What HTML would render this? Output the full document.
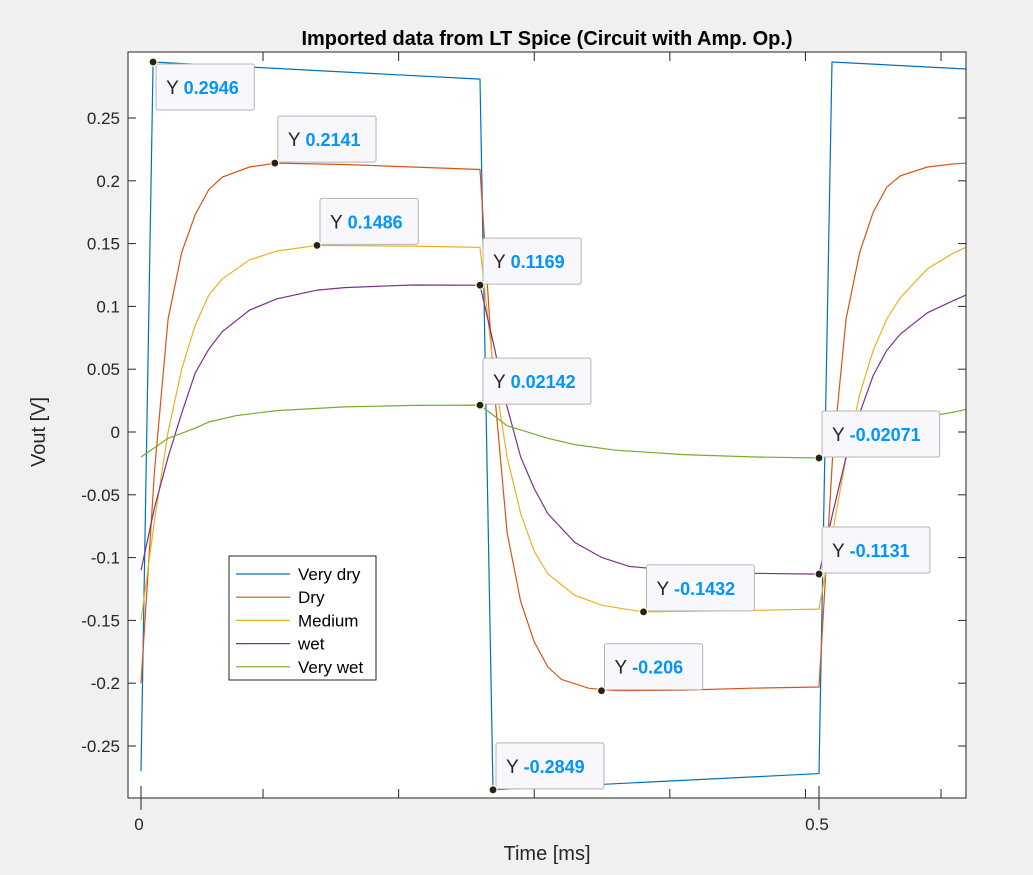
<!DOCTYPE html>
<html><head><meta charset="utf-8"><style>
body{margin:0;background:#f0f0f0;}
svg{display:block;font-family:"Liberation Sans",sans-serif;}
</style></head><body>
<svg id="chart" width="1033" height="875">
<rect x="0" y="0" width="1033" height="875" fill="#f0f0f0"/>
<rect x="128" y="52" width="838" height="746" fill="#fff" stroke="none"/>
<g id="grid"></g>
<g id="series"></g>
<rect x="128" y="52" width="838" height="746" fill="none" stroke="#262626" stroke-width="1"/>
<g id="tips"></g>
<text x="547" y="45" text-anchor="middle" font-size="20" font-weight="bold" fill="#000">Imported data from LT Spice (Circuit with Amp. Op.)</text>
<text x="547" y="860" text-anchor="middle" font-size="20" fill="#262626">Time [ms]</text>
<text transform="translate(45,432) rotate(-90)" text-anchor="middle" font-size="20" fill="#262626">Vout [V]</text>
<g id="legend"></g>
</svg>
<script>
const yTicks=[0.25,0.2,0.15,0.1,0.05,0,-0.05,-0.1,-0.15,-0.2,-0.25];
const yTickLabels=["0.25","0.2","0.15","0.1","0.05","0","-0.05","-0.1","-0.15","-0.2","-0.25"];
const xTicks=[0,0.5];
const xTickLabels=["0","0.5"];
const xMinorTicks=[0.09,0.19,0.29,0.39,0.49,0.59];
const seriesNames=["Very dry","Dry","Medium","wet","Very wet"];
const seriesColors=["#0072bd","#d95319","#edb120","#7e2f8e","#77ac30"];
const veryDryT=[0,0.0089,0.25,0.2596,0.5,0.5096,0.6084];
const veryDryV=[-0.27,0.2946,0.281,-0.2849,-0.272,0.2946,0.289];
const dryT=[0,0.01,0.02,0.03,0.04,0.05,0.06,0.08,0.1,0.15,0.2,0.25,0.26,0.27,0.28,0.29,0.3,0.31,0.33,0.35,0.4,0.45,0.5,0.51,0.52,0.53,0.54,0.55,0.56,0.58,0.6,0.6084];
const dryV=[-0.2,-0.03,0.09,0.143,0.173,0.193,0.203,0.211,0.2141,0.213,0.211,0.209,0.04,-0.08,-0.135,-0.167,-0.187,-0.197,-0.204,-0.206,-0.2055,-0.204,-0.203,-0.02,0.09,0.143,0.175,0.195,0.204,0.211,0.2135,0.214];
const medT=[0,0.01,0.02,0.03,0.04,0.05,0.06,0.08,0.1,0.13,0.2,0.25,0.26,0.27,0.28,0.29,0.3,0.32,0.34,0.37,0.45,0.5,0.51,0.52,0.53,0.54,0.55,0.56,0.58,0.6,0.6084];
const medV=[-0.15,-0.07,0.0,0.05,0.085,0.109,0.122,0.137,0.144,0.1486,0.148,0.147,0.05,-0.02,-0.065,-0.095,-0.113,-0.13,-0.138,-0.1432,-0.142,-0.141,-0.08,-0.02,0.03,0.065,0.09,0.107,0.13,0.143,0.147];
const wetT=[0,0.01,0.02,0.03,0.04,0.05,0.06,0.08,0.1,0.13,0.15,0.2,0.25,0.26,0.27,0.28,0.29,0.3,0.32,0.34,0.36,0.4,0.45,0.5,0.51,0.52,0.53,0.54,0.55,0.56,0.58,0.6,0.6084];
const wetV=[-0.11,-0.06,-0.02,0.015,0.047,0.066,0.08,0.097,0.106,0.113,0.115,0.117,0.1169,0.07,0.02,-0.02,-0.045,-0.065,-0.088,-0.1,-0.107,-0.111,-0.1125,-0.1131,-0.065,-0.02,0.015,0.045,0.065,0.078,0.095,0.105,0.109];
const vwetT=[0,0.02,0.04,0.05,0.07,0.1,0.15,0.2,0.25,0.27,0.3,0.32,0.35,0.4,0.45,0.5,0.52,0.54,0.56,0.58,0.6,0.6084];
const vwetV=[-0.02,-0.005,0.003,0.008,0.013,0.017,0.02,0.0212,0.02142,0.005,-0.005,-0.01,-0.0145,-0.018,-0.0198,-0.02071,-0.008,0.001,0.007,0.012,0.016,0.018];
const tipT=[0.0089,0.0987,0.1298,0.25,0.25,0.5,0.5,0.3706,0.3396,0.2596];
const tipV=[0.2946,0.2141,0.1486,0.1169,0.02142,-0.02071,-0.1131,-0.1432,-0.206,-0.2849];
const tipLabels=["0.2946","0.2141","0.1486","0.1169","0.02142","-0.02071","-0.1131","-0.1432","-0.206","-0.2849"];
const tipBelow=[true,false,false,false,false,false,false,false,false,false];

const NS="http://www.w3.org/2000/svg";
const X=t=>141+t*1356;
const Y=v=>432-v*1256;
function mk(tag,attrs,parent){const e=document.createElementNS(NS,tag);for(const k in attrs)e.setAttribute(k,attrs[k]);parent.appendChild(e);return e;}
const grid=document.getElementById('grid');
yTicks.forEach((v,i)=>{
  const l=mk('line',{x1:128,x2:136,y1:Y(v),y2:Y(v),stroke:'#262626'},grid);
  
  
  const r=mk('line',{x1:958,x2:966,y1:Y(v),y2:Y(v),stroke:'#262626'},grid);
  
  
  const t=mk('text',{x:120,y:Y(v)+6,'text-anchor':'end','font-size':17,fill:'#262626'},grid);
  t.textContent=yTickLabels[i];
  
  
});
xMinorTicks.forEach(v=>{
  const a=mk('line',{x1:X(v),x2:X(v),y1:789,y2:798,stroke:'#262626'},grid);
  
  
  const b=mk('line',{x1:X(v),x2:X(v),y1:52,y2:61,stroke:'#262626'},grid);
  
  
});
xTicks.forEach((v,i)=>{
  const a=mk('line',{x1:X(v),x2:X(v),y1:786,y2:810,stroke:'#262626'},grid);
  
  
  const t=mk('text',{x:X(v)-2,y:830,'text-anchor':'middle','font-size':17,fill:'#262626'},grid);
  t.textContent=xTickLabels[i];
  
  
});
const sdata=[[veryDryT,veryDryV],[dryT,dryV],[medT,medV],[wetT,wetV],[vwetT,vwetV]];
const sg=document.getElementById('series');
sdata.forEach((s,i)=>{
  const d=s[0].map((t,j)=>(j?'L':'M')+X(t).toFixed(1)+','+Y(s[1][j]).toFixed(1)).join('');
  const p=mk('path',{d:d,fill:'none',stroke:seriesColors[i],'stroke-width':1.2},sg);
  
  
});
const tg=document.getElementById('tips');
tipT.forEach((t,i)=>{
  const x=X(t),y=Y(tipV[i]);
  const w=40+tipLabels[i].length*9.7;
  const top=tipBelow[i]?y+2:y-47;
  const g=mk('g',{},tg);
  
  
  mk('rect',{x:x+3,y:top,width:w,height:46,rx:2,fill:'#f8f8fc',stroke:'#b4b4b4'},g);
  const tx=mk('text',{x:x+13,y:top+30,'font-size':19,fill:'#262626'},g);
  tx.textContent='Y ';
  const ts=mk('tspan',{fill:'#0095ff','font-weight':'bold','font-size':18},tx);
  ts.textContent=tipLabels[i];
  mk('circle',{cx:x,cy:y,r:4,fill:'#222','stroke':'#fffbd0','stroke-width':1.2},g);
});
const lg=document.getElementById('legend');
const lb=mk('rect',{x:229,y:556,width:147,height:124,fill:'#fff',stroke:'#262626'},lg);


seriesNames.forEach((n,i)=>{
  const y=574+i*23.2;
  const g=mk('g',{},lg);
  
  
  mk('line',{x1:236,x2:290,y1:y,y2:y,stroke:seriesColors[i],'stroke-width':1.2},g);
  const t=mk('text',{x:298,y:y+6,'font-size':17,fill:'#000'},g);
  t.textContent=n;
});
</script>
</body></html>
